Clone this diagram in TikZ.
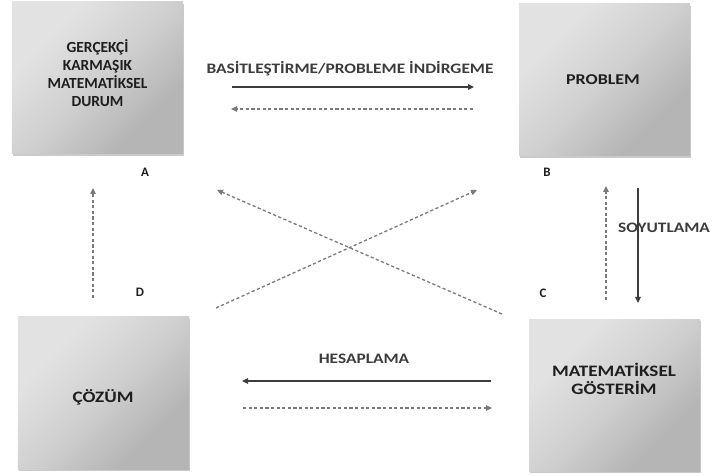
\documentclass[tikz,border=0pt]{standalone}
\usepackage{fontspec}
\setmainfont{Carlito}
\newfontfamily\flowfont[FakeStretch=1.2]{Carlito}
\usetikzlibrary{arrows.meta,shadows}
\definecolor{boxlight}{HTML}{E2E2E2}
\definecolor{boxmid}{HTML}{D0D0D0}
\definecolor{boxdark}{HTML}{B5B5B5}
\definecolor{dashgray}{HTML}{7A7A7A}
\definecolor{inkdark}{HTML}{1E1E1E}
\definecolor{labelgray}{HTML}{3C3C3C}
\pgfdeclarehorizontalshading{boxshade}{100bp}{%
  color(0bp)=(boxlight); color(30bp)=(boxlight); color(50bp)=(boxmid);
  color(70bp)=(boxdark); color(100bp)=(boxdark)}
\tikzset{
  stagebox/.style={shading=boxshade, shading angle=-45,
    minimum width=171bp, minimum height=152bp, inner sep=0pt,
    drop shadow={shadow xshift=1.2bp, shadow yshift=-1.6bp, opacity=0.35, fill=black!60}},
  boxtext/.style={font=\bfseries\fontsize{15.5}{18}\selectfont, text=inkdark, align=center},
  widetext/.style={boxtext, font=\flowfont\bfseries\fontsize{16}{18}\selectfont},
  steplabel/.style={font=\bfseries\fontsize{13}{15}\selectfont, text=inkdark},
  flowtext/.style={font=\flowfont\bfseries\fontsize{14.5}{17}\selectfont, text=labelgray, inner sep=0pt},
  tipstyle/.style={-{Triangle[length=6bp,width=5.5bp]}},
  solidflow/.style={tipstyle, draw=labelgray, line width=1.1bp},
  dashflow/.style={tipstyle, draw=dashgray, line width=1.3bp, dash pattern=on 3.2bp off 2.4bp},
}
\begin{document}
\begin{tikzpicture}[x=1bp, y=-1bp]
\useasboundingbox (0,0) rectangle (712,476);

% the four stage boxes
\node[stagebox] (A) at (97.5,78) {};
\node[stagebox] (B) at (604.5,80) {};
\node[stagebox] (D) at (103.5,393) {};
\node[stagebox] (C) at (614.5,395.5) {};

\node[boxtext] (Atext) at (97.5,73.5) {GERÇEKÇİ\\KARMAŞIK\\MATEMATİKSEL\\DURUM};
\node[widetext, font=\flowfont\bfseries\fontsize{15}{18}\selectfont] (Btext) at (603,80) {PROBLEM};
\node[widetext] (Dtext) at (103,397) {ÇÖZÜM};
\node[widetext] (Ctext) at (614,379) {MATEMATİKSEL\\GÖSTERİM};

% corner letters
\node[steplabel] (la) at (145,172) {A};
\node[steplabel] (lb) at (547,172) {B};
\node[steplabel] (lc) at (543,293) {C};
\node[steplabel] (ld) at (140,292) {D};

% connector end points
\coordinate (ab1) at (232,87);   \coordinate (ab2) at (474,87);
\coordinate (ba1) at (473,109);  \coordinate (ba2) at (231,109);
\coordinate (bc1) at (638,188);  \coordinate (bc2) at (638,303);
\coordinate (cb1) at (606,300);  \coordinate (cb2) at (606,186);
\coordinate (cd1) at (491,381);  \coordinate (cd2) at (242,381);
\coordinate (dc1) at (243,408);  \coordinate (dc2) at (492,408);
\coordinate (da1) at (93,298);   \coordinate (da2) at (93,188);
\coordinate (db1) at (216,308);  \coordinate (db2) at (477,190);
\coordinate (ca1) at (502,314);  \coordinate (ca2) at (217,190);

% flow labels
\node[flowtext] (simplify) at (350,69) {BASİTLEŞTİRME/PROBLEME İNDİRGEME};
\node[flowtext, anchor=west] (abstract) at (618,228) {SOYUTLAMA};
\node[flowtext] (compute) at (364,359) {HESAPLAMA};

% connectors
\draw[solidflow] (ab1) -- (ab2);
\draw[dashflow] (ba1) -- (ba2);
\draw[solidflow] (bc1) -- (bc2);
\draw[dashflow] (cb1) -- (cb2);
\draw[solidflow] (cd1) -- (cd2);
\draw[dashflow] (dc1) -- (dc2);
\draw[dashflow] (da1) -- (da2);
\draw[dashflow] (db1) -- (db2);
\draw[dashflow] (ca1) -- (ca2);
\end{tikzpicture}
\end{document}
